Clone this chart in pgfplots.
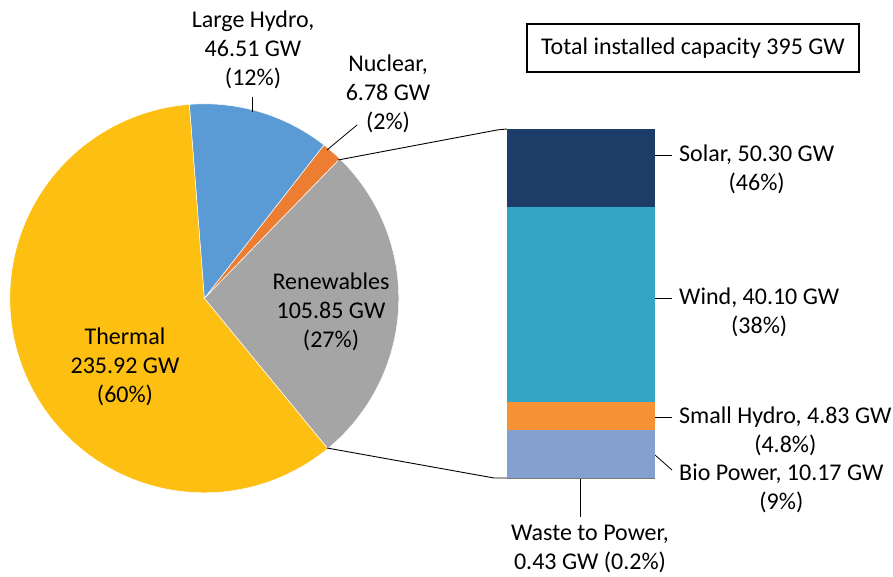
\documentclass[border=0pt]{standalone}
\usepackage{pgfplots}
\pgfplotsset{compat=1.18}
\usepackage{fontspec}
\setmainfont{Carlito}
\definecolor{cThermal}{RGB}{252,191,18}
\definecolor{cHydro}{RGB}{91,155,213}
\definecolor{cNuclear}{RGB}{237,125,49}
\definecolor{cRen}{RGB}{165,165,165}
\definecolor{cSolar}{RGB}{29,60,104}
\definecolor{cWind}{RGB}{51,166,198}
\definecolor{cSmall}{RGB}{246,146,54}
\definecolor{cBio}{RGB}{132,160,206}
\definecolor{cWaste}{RGB}{120,120,120}
% pie values (GW)
\def\vRen{105.85}
\def\vNuc{6.78}
\def\vHyd{46.51}
\def\vThe{235.92}
\begin{document}
\begin{tikzpicture}[lbl/.style={font=\fontsize{24}{29}\selectfont, align=center, inner sep=0pt}]
\pgfmathsetmacro{\tot}{\vRen+\vNuc+\vHyd+\vThe}
\pgfmathsetmacro{\aA}{-50.6}
\pgfmathsetmacro{\aB}{\aA+360*(\vRen/\tot)}
\pgfmathsetmacro{\aC}{\aB+360*(\vNuc/\tot)}
\pgfmathsetmacro{\aD}{\aC+360*(\vHyd/\tot)}
\pgfmathsetmacro{\aE}{\aD+360*(\vThe/\tot)}
\begin{axis}[at={(0pt,0pt)}, anchor=south west, width=893pt, height=576pt, scale only axis,
  xmin=0, xmax=893, ymin=0, ymax=576, hide axis, clip=false]
\addplot[fill=cRen, draw=white, line width=0.5pt, domain=\aA:\aB, samples=60, variable=\t]
  ({204.3+194.5*cos(\t)},{277.7+194.5*sin(\t)}) -- (axis cs:204.3,277.7) -- cycle;
\addplot[fill=cNuclear, draw=white, line width=0.5pt, domain=\aB:\aC, samples=10, variable=\t]
  ({204.3+194.5*cos(\t)},{277.7+194.5*sin(\t)}) -- (axis cs:204.3,277.7) -- cycle;
\addplot[fill=cHydro, draw=white, line width=0.5pt, domain=\aC:\aD, samples=40, variable=\t]
  ({204.3+194.5*cos(\t)},{277.7+194.5*sin(\t)}) -- (axis cs:204.3,277.7) -- cycle;
\addplot[fill=cThermal, draw=white, line width=0.5pt, domain=\aD:\aE, samples=120, variable=\t]
  ({204.3+194.5*cos(\t)},{277.7+194.5*sin(\t)}) -- (axis cs:204.3,277.7) -- cycle;
% connectors
\draw[black, line width=0.9pt] (axis cs:338,416) -- (axis cs:497,446) -- (axis cs:507,447);
\draw[black, line width=0.9pt] (axis cs:327,128) -- (axis cs:494,98) -- (axis cs:507,98);
% leader lines
\draw[black, line width=0.8pt] (axis cs:252,479) -- (axis cs:252,464);
\draw[black, line width=0.8pt] (axis cs:357,451) -- (axis cs:327,426);
\draw[black, line width=0.8pt] (axis cs:655,421) -- (axis cs:672,421);
\draw[black, line width=0.8pt] (axis cs:655,278) -- (axis cs:672,278);
\draw[black, line width=0.8pt] (axis cs:655,159) -- (axis cs:672,159);
\draw[black, line width=0.8pt] (axis cs:655,121) -- (axis cs:672,106);
\draw[black, line width=0.8pt] (axis cs:580.7,98) -- (axis cs:580.7,59);
% labels
\node[lbl] at (axis cs:253,526.5) {Large Hydro,\\46.51 GW\\(12\%)};
\node[lbl] at (axis cs:388,482) {Nuclear,\\6.78 GW\\(2\%)};
\node[lbl] at (axis cs:331,264) {Renewables\\105.85 GW\\(27\%)};
\node[lbl] at (axis cs:125,209) {Thermal\\235.92 GW\\(60\%)};
\node[lbl, anchor=west] at (axis cs:679,406.5) {Solar, 50.30 GW\\(46\%)};
\node[lbl, anchor=west] at (axis cs:679,263.5) {Wind, 40.10 GW\\(38\%)};
\node[lbl, anchor=west] at (axis cs:679,144.5) {Small Hydro, 4.83 GW\\(4.8\%)};
\node[lbl, anchor=west] at (axis cs:679,87.5) {Bio Power, 10.17 GW\\(9\%)};
\node[lbl] at (axis cs:590,27.5) {Waste to Power,\\0.43 GW (0.2\%)};
\draw[black, line width=1.2pt] (axis cs:527,504) rectangle (axis cs:859,552);
\node[lbl] at (axis cs:693,528) {Total installed capacity 395 GW};
\end{axis}
% bar of pie (heights as drawn in the reference)
\begin{axis}[at={(507pt,98pt)}, anchor=south west, width=148pt, height=349.3pt, scale only axis,
  xmin=-0.5, xmax=0.5, ymin=0, ymax=105.95, hide axis, ybar stacked, bar width=148pt]
\addplot[fill=cWaste, draw=none] coordinates {(0,0.15)};
\addplot[fill=cBio, draw=none] coordinates {(0,14.4)};
\addplot[fill=cSmall, draw=none] coordinates {(0,8.5)};
\addplot[fill=cWind, draw=none] coordinates {(0,59.1)};
\addplot[fill=cSolar, draw=none] coordinates {(0,23.8)};
\end{axis}
\pgfresetboundingbox
\path (0pt,0pt) rectangle (893pt,576pt);
\end{tikzpicture}
\end{document}
